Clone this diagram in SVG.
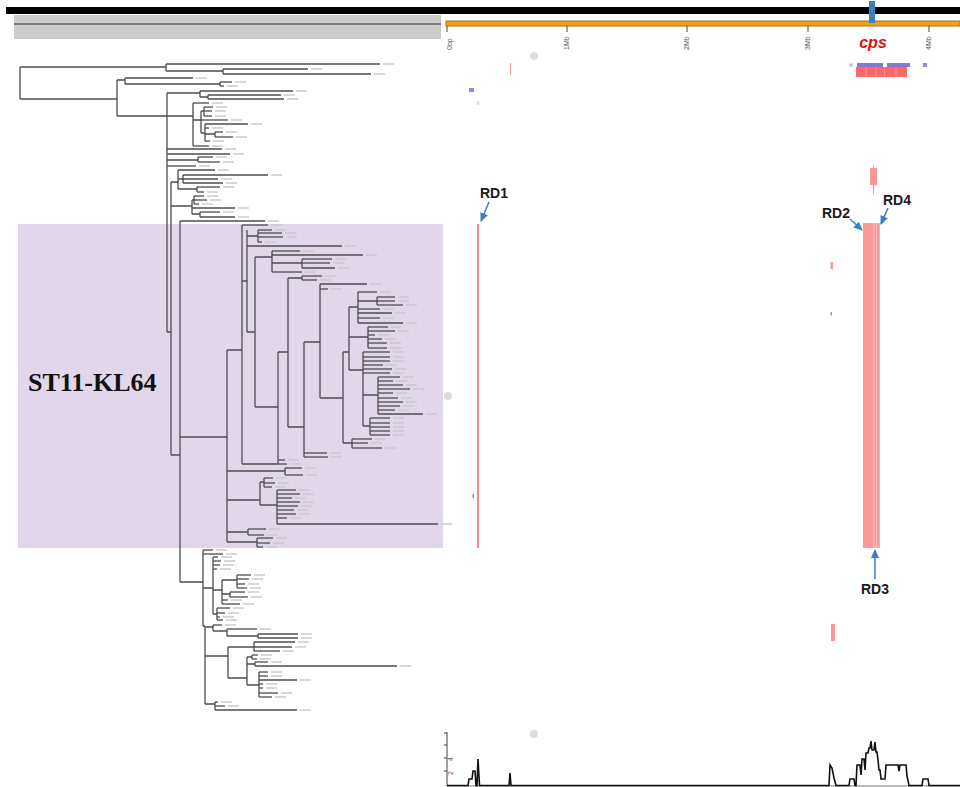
<svg xmlns="http://www.w3.org/2000/svg" width="960" height="787" viewBox="0 0 960 787">
<style>
.br{fill:none;stroke:#4d4d4d;stroke-width:1.3}
.lf{fill:none;stroke:#4d4d4d;stroke-width:1.3;marker-end:url(#lb)}
.ax{font-family:"Liberation Sans",Arial,sans-serif;font-size:7px;fill:#555}
.rd{font-family:"Liberation Sans",Arial,sans-serif;font-size:14px;font-weight:bold;fill:#1a1a1a}
.arr{fill:none;stroke:#3d7cc9;stroke-width:1.5;marker-end:url(#ah)}
.hm{fill:#fb9797}
.bl{fill:#8c8ce8}
.dot{fill:#dcdcdc}
</style>
<defs>
<marker id="lb" markerUnits="userSpaceOnUse" markerWidth="20" markerHeight="4" refX="0" refY="2" orient="0" overflow="visible"><rect x="3" y="1.3" width="11" height="1.4" fill="#c8c8c8"/></marker>
<marker id="ah" markerUnits="userSpaceOnUse" markerWidth="9" markerHeight="8" refX="8" refY="4" orient="auto"><path d="M0,0 L9,4 L0,8 z" fill="#3d7cc9"/></marker>
</defs>
<rect width="960" height="787" fill="#fff"/>

<g id="top-bar">
<rect x="6" y="7" width="954" height="7" fill="#000"/>
<rect x="14" y="15" width="427" height="24" fill="#cccccc"/>
<line x1="14" y1="24" x2="441" y2="24" stroke="#666" stroke-width="1.5"/>
<rect x="446" y="21" width="514" height="5" fill="#eba21c" stroke="#b86e00" stroke-width="1"/>
<rect x="869" y="1" width="6" height="22" fill="#3a7fc0"/>
<path d="M447 26V32M567 26V32M687 26V32M808 26V32M929 26V32" stroke="#444" stroke-width="1"/>
<text class="ax" transform="translate(452,50) rotate(-90)">0bp</text>
<text class="ax" transform="translate(569,50) rotate(-90)">1Mb</text>
<text class="ax" transform="translate(689,50) rotate(-90)">2Mb</text>
<text class="ax" transform="translate(810,50) rotate(-90)">3Mb</text>
<text class="ax" transform="translate(931,50) rotate(-90)">4Mb</text>
<text x="873" y="48" text-anchor="middle" font-family="Liberation Sans,Arial,sans-serif" font-size="16" font-weight="bold" font-style="italic" fill="#e01010">cps</text>
</g>

<g id="clade-box">
<rect x="18" y="224" width="425" height="324" fill="#e2d7ea"/>
<text x="28" y="391" font-family="Liberation Serif,Times New Roman,serif" font-size="26" font-weight="bold" fill="#111">ST11-KL64</text>
</g>

<g id="tree">
<path class="br" d="M20 67V99M20 67H166M20 99H117M166 64V71M166 71H223M223 69V74M117 80V116M117 80H125M125 78V84M125 84H220M220 82V86M117 116H193M167 93V332M167 93H200M200 91V97M200 97H208M208 95V99M193 103V146M193 120H201M201 111V133M201 111H204M204 107V116M201 133H205M205 124V141M205 134H215M215 132V137M167 160H198M198 157V162M167 332H171M171 182V455M171 182H178M178 170V189M178 179H183M183 175V183M178 189H197M197 187V192M171 206H192M192 200V214M192 200H194M194 196V204M192 214H200M200 212V217M171 455H180M180 221V582"/>
<path class="br" d="M180 437H227M227 350V542M227 350H242M242 225V464M242 281H247M247 230V332M247 236H258M258 230V242M247 332H255M255 257V407M255 257H272M272 251V272M272 263H302M302 259V268M255 407H278M242 464H278M278 352V464M278 352H288M288 278V427M288 278H302M302 276V280M288 427H304M304 342V457M304 342H320M320 284V398M320 398H343M343 352V443M343 352H349M349 307V370M349 307H358M358 292V323M358 301H377M377 297V305M349 337H368M368 327V348M349 370H363M363 352V426M363 395H378M378 377V414M363 426H370M370 418V435M343 443H352M352 439V448"/>
<path class="br" d="M227 471H285M285 468V475M227 500H260M260 482V505M260 482H264M264 478V487M260 505H277M277 490V524M227 532H248M248 529V535M227 542H257M257 538V547"/>
<path class="br" d="M180 582H203M203 550V626M203 588H213M213 557V614M213 590H222M222 580V604M222 580H237M237 575V588M222 594H230M230 592V597M213 614H217M217 608V620M203 626H205M205 626V704M205 627H213M213 625V631M213 631H227M227 629V636M227 636H258M258 634V638M205 656H228M228 647V678M228 647H254M254 642V651M228 678H247M247 657V685M247 657H252M252 655V659M247 664H255M255 662V666M247 685H259M259 672V697M205 704H215M215 702V710"/>
<g id="leaves-top">
<path class="lf" d="M166 64H380"/><path class="lf" d="M223 69H308"/><path class="lf" d="M223 74H371"/><path class="lf" d="M125 78H193"/><path class="lf" d="M220 82H232"/><path class="lf" d="M220 86H224"/><path class="lf" d="M200 91H293"/><path class="lf" d="M208 95H281"/><path class="lf" d="M208 99H284"/><path class="lf" d="M193 103H209"/><path class="lf" d="M204 107H213"/><path class="lf" d="M204 111H212"/><path class="lf" d="M204 116H212"/><path class="lf" d="M201 120H228"/><path class="lf" d="M205 124H248"/><path class="lf" d="M205 128H209"/><path class="lf" d="M215 132H223"/><path class="lf" d="M215 137H233"/><path class="lf" d="M205 141H210"/><path class="lf" d="M193 146H209"/><path class="lf" d="M167 149H222"/><path class="lf" d="M167 154H230"/><path class="lf" d="M198 157H213"/><path class="lf" d="M198 162H220"/><path class="lf" d="M167 166H196"/><path class="lf" d="M178 170H215"/><path class="lf" d="M183 175H268"/><path class="lf" d="M183 179H218"/><path class="lf" d="M183 183H223"/><path class="lf" d="M197 187H220"/><path class="lf" d="M197 192H204"/><path class="lf" d="M194 196H204"/><path class="lf" d="M194 200H207"/><path class="lf" d="M194 204H199"/><path class="lf" d="M192 208H235"/><path class="lf" d="M200 212H220"/><path class="lf" d="M200 217H235"/><path class="lf" d="M180 221H265"/>
</g>
<g id="leaves-kl64">
<path class="lf" d="M242 225H268"/><path class="lf" d="M258 230H272"/><path class="lf" d="M258 233H282"/><path class="lf" d="M258 237H283"/><path class="lf" d="M258 242H262"/><path class="lf" d="M247 246H342"/><path class="lf" d="M272 251H300"/><path class="lf" d="M272 255H363"/><path class="lf" d="M302 259H332"/><path class="lf" d="M302 263H330"/><path class="lf" d="M302 268H335"/><path class="lf" d="M272 272H302"/><path class="lf" d="M302 276H322"/><path class="lf" d="M302 280H317"/><path class="lf" d="M320 284H367"/><path class="lf" d="M320 289H328"/><path class="lf" d="M358 292H377"/><path class="lf" d="M377 297H395"/><path class="lf" d="M377 301H395"/><path class="lf" d="M377 305H403"/><path class="lf" d="M358 309H380"/><path class="lf" d="M358 313H392"/><path class="lf" d="M358 318H380"/><path class="lf" d="M358 323H403"/><path class="lf" d="M368 327H388"/><path class="lf" d="M368 331H395"/><path class="lf" d="M368 335H375"/><path class="lf" d="M368 339H382"/><path class="lf" d="M368 343H387"/><path class="lf" d="M368 348H387"/><path class="lf" d="M363 352H390"/><path class="lf" d="M363 357H390"/><path class="lf" d="M363 361H390"/><path class="lf" d="M363 365H383"/><path class="lf" d="M363 369H392"/><path class="lf" d="M363 373H390"/><path class="lf" d="M378 377H400"/><path class="lf" d="M378 381H393"/><path class="lf" d="M378 385H403"/><path class="lf" d="M378 389H410"/><path class="lf" d="M378 393H393"/><path class="lf" d="M378 398H398"/><path class="lf" d="M378 402H403"/><path class="lf" d="M378 406H400"/><path class="lf" d="M378 410H395"/><path class="lf" d="M378 414H423"/><path class="lf" d="M370 418H390"/><path class="lf" d="M370 423H390"/><path class="lf" d="M370 427H390"/><path class="lf" d="M370 431H390"/><path class="lf" d="M370 435H390"/><path class="lf" d="M352 439H372"/><path class="lf" d="M352 443H368"/><path class="lf" d="M352 448H382"/><path class="lf" d="M304 453H327"/><path class="lf" d="M304 457H328"/><path class="lf" d="M278 460H285"/><path class="lf" d="M278 464H287"/><path class="lf" d="M285 468H302"/><path class="lf" d="M285 475H303"/><path class="lf" d="M264 478H273"/><path class="lf" d="M264 483H275"/><path class="lf" d="M264 487H272"/><path class="lf" d="M277 490H296"/><path class="lf" d="M277 494H300"/><path class="lf" d="M277 498H292"/><path class="lf" d="M277 502H300"/><path class="lf" d="M277 506H298"/><path class="lf" d="M277 510H294"/><path class="lf" d="M277 514H296"/><path class="lf" d="M277 518H287"/><path class="lf" d="M277 524H438"/><path class="lf" d="M248 529H266"/><path class="lf" d="M248 535H264"/><path class="lf" d="M257 538H273"/><path class="lf" d="M257 543H270"/><path class="lf" d="M257 547H263"/>
</g>
<g id="leaves-bottom">
<path class="lf" d="M203 550H213"/><path class="lf" d="M203 554H223"/><path class="lf" d="M213 557H218"/><path class="lf" d="M213 561H221"/><path class="lf" d="M213 565H220"/><path class="lf" d="M213 569H217"/><path class="lf" d="M237 575H251"/><path class="lf" d="M237 579H249"/><path class="lf" d="M237 584H245"/><path class="lf" d="M237 588H247"/><path class="lf" d="M230 592H245"/><path class="lf" d="M230 597H248"/><path class="lf" d="M222 600H228"/><path class="lf" d="M222 604H240"/><path class="lf" d="M217 608H230"/><path class="lf" d="M217 613H225"/><path class="lf" d="M217 617H220"/><path class="lf" d="M217 620H223"/><path class="lf" d="M213 625H222"/><path class="lf" d="M227 629H257"/><path class="lf" d="M258 634H298"/><path class="lf" d="M258 638H298"/><path class="lf" d="M254 642H295"/><path class="lf" d="M254 647H292"/><path class="lf" d="M254 651H280"/><path class="lf" d="M252 655H258"/><path class="lf" d="M252 659H257"/><path class="lf" d="M255 662H268"/><path class="lf" d="M255 666H397"/><path class="lf" d="M259 672H268"/><path class="lf" d="M259 676H268"/><path class="lf" d="M259 680H297"/><path class="lf" d="M259 684H263"/><path class="lf" d="M259 688H263"/><path class="lf" d="M259 693H278"/><path class="lf" d="M259 697H272"/><path class="lf" d="M215 702H218"/><path class="lf" d="M215 706H225"/><path class="lf" d="M215 710H297"/>
</g>
</g>

<g id="heatmap">
<circle class="dot" cx="534" cy="56" r="4"/>
<circle class="dot" cx="448" cy="396" r="4"/>
<rect x="510" y="63" width="1" height="12" fill="#f3a0a0"/>
<rect class="bl" x="469" y="88" width="5" height="4"/>
<rect x="477.5" y="101" width="1" height="4" fill="#bbb"/>
<rect class="bl" x="849.5" y="63.5" width="1" height="3"/>
<rect class="bl" x="851.5" y="63.5" width="1" height="3"/>
<rect x="857" y="63" width="26" height="4" fill="#8a78d0"/>
<rect x="887" y="63" width="23" height="4" fill="#8a78d0"/>
<rect x="856" y="67" width="51" height="10" fill="#f86a6a"/>
<path d="M866 67V77M876 67V77M884.5 67V77M896 67V77" stroke="#fcc" stroke-width="0.6" stroke-opacity="0.6"/>
<rect class="bl" x="923" y="63" width="4" height="4"/>
<rect x="870" y="168" width="7" height="17" class="hm"/>
<line x1="873.5" y1="165" x2="873.5" y2="194" stroke="#fb9797" stroke-width="1"/>
<rect x="477" y="224" width="2" height="324" fill="#f28b8b"/>
<rect class="bl" x="472.5" y="494" width="1.5" height="4"/>
<rect x="863" y="223" width="17" height="325" fill="#fcd3d3"/>
<rect x="863" y="223" width="10.5" height="325" class="hm"/>
<rect x="874.3" y="223" width="1.6" height="325" class="hm"/>
<rect x="876.8" y="223" width="2.8" height="325" class="hm"/>
<rect x="830.5" y="262" width="2.5" height="7" class="hm"/>
<rect class="bl" x="830.5" y="312" width="1.5" height="3.5"/>
<rect x="831" y="624" width="4" height="17" class="hm"/>
</g>

<g id="connectors">
<line class="arr" x1="489" y1="202" x2="481" y2="221"/>
<line class="arr" x1="850" y1="219" x2="862" y2="230"/>
<line class="arr" x1="888" y1="208" x2="881" y2="224"/>
<line class="arr" x1="875" y1="579" x2="875" y2="550"/>
</g>

<g id="rd-labels">
<text class="rd" x="480" y="198">RD1</text>
<text class="rd" x="822" y="218">RD2</text>
<text class="rd" x="883" y="205">RD4</text>
<text class="rd" x="861" y="594">RD3</text>
</g>

<g id="coverage-plot">
<circle class="dot" cx="534" cy="734" r="4"/>
<path d="M447 732V786M444 771H447M444 758H447M444 745H447M444 733H447" stroke="#444" stroke-width="1" fill="none"/>
<text class="ax" transform="translate(453,775) rotate(-90)">2</text>
<text class="ax" transform="translate(453,761) rotate(-90)">4</text>
<line x1="447" y1="786" x2="960" y2="786" stroke="#777" stroke-width="1.2"/>
<path d="M447 785.5H468L469 779H472L473 771H475L476 785.5H477L478 759L479.5 785.5H509L510 773L511 785.5H829L830 765L832 768L834 778L836 785.5H849L850 779H853L854 779L855 785.5H856L857 765H860L861 775L862 759H864L865 770L866 753H868L869 748H870L871 741L872 750H874L875 742L876 752H877L878 760L879 770H880L881 779H885L886 765H898L899 771L900 765H906L907 776L909 785.5H922L923 779H928L929 785.5H960" fill="none" stroke="#111" stroke-width="1.6"/>
</g>
</svg>
